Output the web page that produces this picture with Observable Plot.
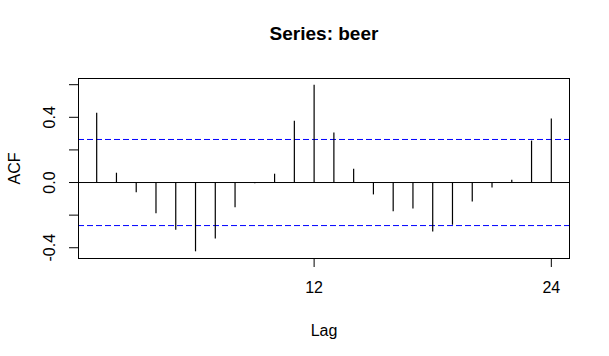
<!DOCTYPE html>
<html>
<head>
<meta charset="utf-8">
<script src="https://cdn.jsdelivr.net/npm/d3@7"></script>
<script src="https://cdn.jsdelivr.net/npm/@observablehq/plot@0.6"></script>
<style>
  html, body { margin: 0; padding: 0; background: #fff; }
</style>
</head>
<body>
<div id="chart"></div>
<script>
const title = "Series: beer";
const lags = [1,2,3,4,5,6,7,8,9,10,11,12,13,14,15,16,17,18,19,20,21,22,23,24];
const acfValues = [0.425, 0.057, -0.063, -0.192, -0.292, -0.425, -0.346, -0.155, -0.008, 0.051, 0.376, 0.597,
                   0.303, 0.082, -0.076, -0.180, -0.162, -0.303, -0.262, -0.119, -0.033, 0.014, 0.254, 0.389];
const ciBound = 0.264;
const xTicks = [12, 24];
const yTicks = [-0.4, -0.2, 0, 0.2, 0.4, 0.6];
const yLabelled = [-0.4, 0, 0.4];

const data = lags.map((l, i) => ({lag: l, acf: acfValues[i]}));
const fmt = d => yLabelled.some(v => Math.abs(v - d) < 1e-9) ? d.toFixed(1).replace("\u2212", "-") : "";

const chart = Plot.plot({
  width: 609,
  height: 356,
  marginLeft: 78,
  marginRight: 40,
  marginTop: 78,
  marginBottom: 98,
  style: {fontFamily: "'Liberation Sans', Arial, sans-serif", fontSize: "16px", background: "#fff", color: "#000"},
  x: {domain: [0.08, 24.92]},
  y: {domain: [-0.466, 0.638]},
  marks: [
    Plot.ruleY([ciBound, -ciBound], {stroke: "#0000ff", strokeDasharray: "6,3", strokeWidth: 1}),
    Plot.ruleY([0], {stroke: "#000", strokeWidth: 1}),
    Plot.ruleX(data, {x: "lag", y1: 0, y2: "acf", stroke: "#000", strokeWidth: 1.2}),
    Plot.frame({stroke: "#000"}),
    Plot.axisX({ticks: xTicks, tickSize: 9, tickPadding: 14, tickFormat: d => String(d),
      label: "Lag", labelAnchor: "center", labelOffset: 77, labelArrow: "none", fontSize: 16}),
    Plot.axisY({ticks: yTicks, tickSize: 9, tickPadding: 15, tickFormat: fmt,
      tickRotate: -90, textAnchor: "middle", lineAnchor: "bottom",
      label: "ACF", labelAnchor: "center", labelOffset: 70, labelArrow: "none", fontSize: 16}),
    Plot.text([title], {text: d => d, frameAnchor: "top", dy: -45, fontWeight: "bold", fontSize: 19, lineAnchor: "middle"})
  ]
});
document.getElementById("chart").appendChild(chart);
</script>
</body>
</html>
